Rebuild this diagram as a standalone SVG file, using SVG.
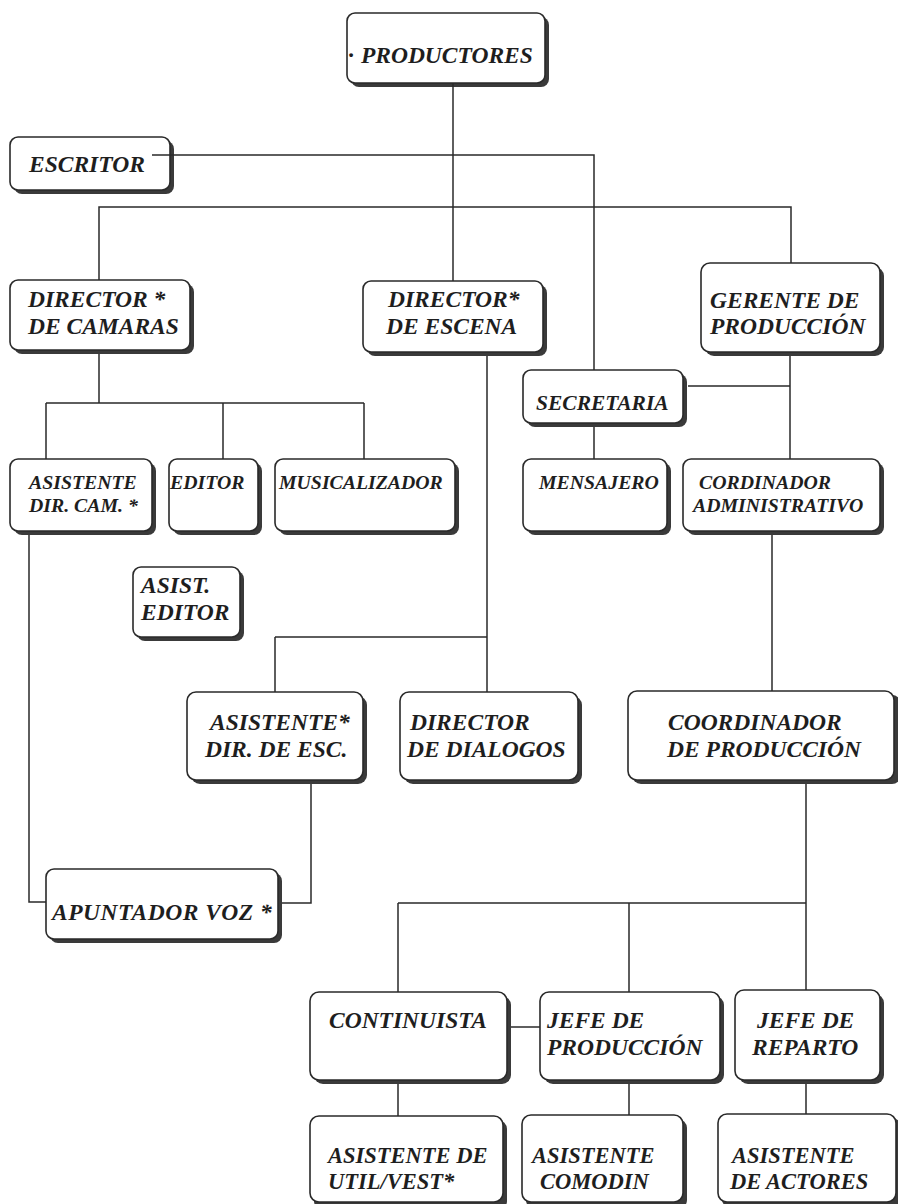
<svg xmlns="http://www.w3.org/2000/svg" width="898" height="1204" viewBox="0 0 898 1204">
<style>
.sh{fill:#3a3a3a}
.bx{fill:#fff;stroke:#2a2a2a;stroke-width:1.6}
.t{font-family:"Liberation Serif","Times New Roman",serif;font-weight:bold;font-style:italic;font-size:23.5px;fill:#1e1e1e}
.s{font-size:19.8px}
.m{font-size:21.5px}
.b{font-size:22.5px}
.c{fill:none;stroke:#2a2a2a;stroke-width:1.5}
</style>
<rect width="898" height="1204" fill="#fff"/>
<g id="productores"><rect class="sh" x="351" y="17" width="198" height="70" rx="8"/><rect class="bx" x="347" y="13" width="198" height="70" rx="8"/><text class="t" x="348" y="63">·<tspan dx="7">PRODUCTORES</tspan></text></g>
<g id="escritor"><rect class="sh" x="14" y="141" width="160" height="53" rx="8"/><rect class="bx" x="10" y="137" width="160" height="53" rx="8"/><text class="t" x="29" y="172">ESCRITOR</text></g>
<g id="director-camaras"><rect class="sh" x="14" y="284" width="180" height="70" rx="8"/><rect class="bx" x="10" y="280" width="180" height="70" rx="8"/><text class="t" x="28" y="307">DIRECTOR *</text><text class="t" x="28" y="334">DE CAMARAS</text></g>
<g id="director-escena"><rect class="sh" x="367" y="285" width="180" height="71" rx="8"/><rect class="bx" x="363" y="281" width="180" height="71" rx="8"/><text class="t" x="388" y="307">DIRECTOR*</text><text class="t" x="386" y="334">DE ESCENA</text></g>
<g id="gerente"><rect class="sh" x="705" y="267" width="179" height="89" rx="9"/><rect class="bx" x="701" y="263" width="179" height="89" rx="9"/><text class="t" x="710" y="308">GERENTE DE</text><text class="t" x="710" y="334">PRODUCCIÓN</text></g>
<g id="secretaria"><rect class="sh" x="527" y="374" width="160" height="53" rx="8"/><rect class="bx" x="523" y="370" width="160" height="53" rx="8"/><text class="t m" x="536" y="410">SECRETARIA</text></g>
<g id="asistente-dir-cam"><rect class="sh" x="14" y="463" width="142" height="72" rx="8"/><rect class="bx" x="10" y="459" width="142" height="72" rx="8"/><text class="t s" x="29" y="489">ASISTENTE</text><text class="t s" x="29" y="512">DIR. CAM. *</text></g>
<g id="editor"><rect class="sh" x="173" y="463" width="89" height="72" rx="8"/><rect class="bx" x="169" y="459" width="89" height="72" rx="8"/><text class="t s" x="170" y="489">EDITOR</text></g>
<g id="musicalizador"><rect class="sh" x="279" y="463" width="180" height="72" rx="8"/><rect class="bx" x="275" y="459" width="180" height="72" rx="8"/><text class="t s" x="279" y="489">MUSICALIZADOR</text></g>
<g id="mensajero"><rect class="sh" x="527" y="463" width="144" height="72" rx="8"/><rect class="bx" x="523" y="459" width="144" height="72" rx="8"/><text class="t s" x="539" y="489">MENSAJERO</text></g>
<g id="cordinador-administrativo"><rect class="sh" x="687" y="463" width="197" height="72" rx="8"/><rect class="bx" x="683" y="459" width="197" height="72" rx="8"/><text class="t s" x="699" y="489">CORDINADOR</text><text class="t s" x="693" y="512">ADMINISTRATIVO</text></g>
<g id="asist-editor"><rect class="sh" x="137" y="571" width="107" height="70" rx="8"/><rect class="bx" x="133" y="567" width="107" height="70" rx="8"/><text class="t" x="141" y="593">ASIST.</text><text class="t" x="141" y="620">EDITOR</text></g>
<g id="asistente-dir-esc"><rect class="sh" x="191" y="696" width="176" height="88" rx="9"/><rect class="bx" x="187" y="692" width="176" height="88" rx="9"/><text class="t" x="210" y="730">ASISTENTE*</text><text class="t" x="205" y="757">DIR. DE ESC.</text></g>
<g id="director-dialogos"><rect class="sh" x="404" y="696" width="178" height="88" rx="9"/><rect class="bx" x="400" y="692" width="178" height="88" rx="9"/><text class="t" x="410" y="730">DIRECTOR</text><text class="t" x="407" y="757">DE DIALOGOS</text></g>
<g id="coordinador-produccion"><rect class="sh" x="632" y="695" width="269" height="89" rx="9"/><rect class="bx" x="628" y="691" width="266" height="89" rx="9"/><text class="t" x="668" y="730">COORDINADOR</text><text class="t" x="667" y="757">DE PRODUCCIÓN</text></g>
<g id="apuntador"><rect class="sh" x="50" y="873" width="232" height="70" rx="8"/><rect class="bx" x="46" y="869" width="232" height="70" rx="8"/><text class="t" x="52" y="920" letter-spacing="0.5">APUNTADOR VOZ *</text></g>
<g id="continuista"><rect class="sh" x="314" y="996" width="197" height="88" rx="9"/><rect class="bx" x="310" y="992" width="197" height="88" rx="9"/><text class="t" x="329" y="1028">CONTINUISTA</text></g>
<g id="jefe-produccion"><rect class="sh" x="544" y="996" width="180" height="88" rx="9"/><rect class="bx" x="540" y="992" width="180" height="88" rx="9"/><text class="t" x="547" y="1028">JEFE DE</text><text class="t" x="547" y="1055">PRODUCCIÓN</text></g>
<g id="jefe-reparto"><rect class="sh" x="739" y="994" width="145" height="90" rx="9"/><rect class="bx" x="735" y="990" width="145" height="90" rx="9"/><text class="t" x="757" y="1028">JEFE DE</text><text class="t" x="752" y="1055">REPARTO</text></g>
<g id="asistente-util"><rect class="sh" x="314" y="1120" width="193" height="90" rx="9"/><rect class="bx" x="310" y="1116" width="193" height="86" rx="9"/><text class="t b" x="328" y="1163">ASISTENTE DE</text><text class="t b" x="328" y="1189">UTIL/VEST*</text></g>
<g id="asistente-comodin"><rect class="sh" x="526" y="1119" width="161" height="90" rx="9"/><rect class="bx" x="522" y="1115" width="161" height="87" rx="9"/><text class="t b" x="532" y="1163">ASISTENTE</text><text class="t b" x="540" y="1189">COMODIN</text></g>
<g id="asistente-actores"><rect class="sh" x="722" y="1118" width="179" height="90" rx="9"/><rect class="bx" x="718" y="1114" width="178" height="88" rx="9"/><text class="t b" x="732" y="1163">ASISTENTE</text><text class="t b" x="730" y="1189">DE ACTORES</text></g>
<g id="connectors" class="c">
<path d="M453 83V281"/>
<path d="M152 155H594V370"/>
<path d="M99 280V207H791V263"/>
<path d="M99 354V403M46 403H364M46 403V459M223 403V459M364 403V459"/>
<path d="M29 535V902H46"/>
<path d="M487 356V692M275 637H487M275 637V692"/>
<path d="M311 784V903H282"/>
<path d="M688 386H790M790 356V459M594 427V459"/>
<path d="M772 535V691"/>
<path d="M806 784V990M398 903H806M398 903V992M629 903V992"/>
<path d="M511 1027H540"/>
<path d="M398 1084V1116M629 1084V1115M806 1084V1114"/>
</g>
</svg>
